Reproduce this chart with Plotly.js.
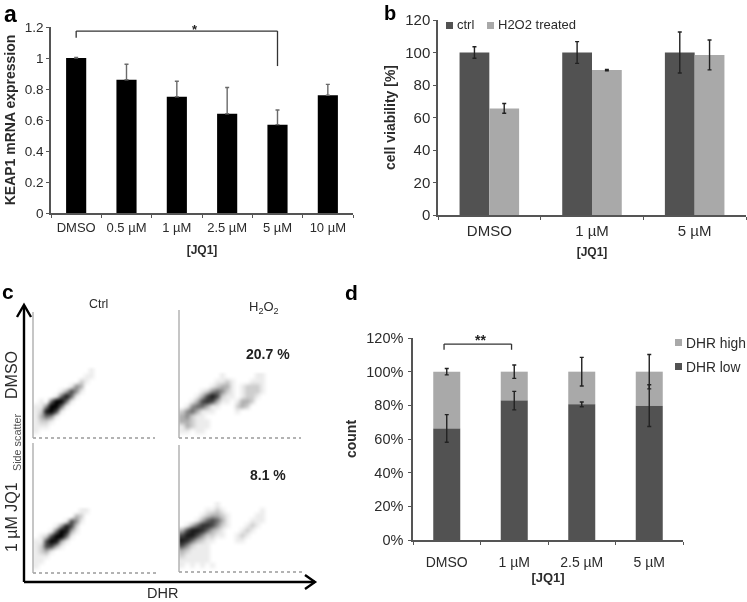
<!DOCTYPE html>
<html>
<head>
<meta charset="utf-8">
<script src="https://cdn.plot.ly/plotly-3.0.1.min.js"></script>
<style>html,body{margin:0;padding:0;background:#fff}#chart{width:747px;height:602px;filter:blur(0.45px)}
.heatmaplayer image{filter:blur(1.2px)}</style>
</head>
<body>
<div id="chart"></div>
<script>
// Panel a
const catsA = ["DMSO","0.5 µM","1 µM","2.5 µM","5 µM","10 µM"];
const valsA = [1.0,0.86,0.75,0.64,0.57,0.76];
const errA  = [0.003,0.10,0.10,0.17,0.095,0.07];
// Panel b
const catsB = ["DMSO","1 µM","5 µM"];
const ctrlB = [100,100,100];
const ctrlErrB = [3.5,6.7,12.6];
const h2o2B = [65.6,89.2,98.5];
const h2o2ErrB = [3,0.4,9.2];
// Panel d
const catsD = ["DMSO","1 µM","2.5 µM","5 µM"];
const lowD = [66.3,82.8,80.6,79.8];
const lowErrD = [8.2,5.5,1.4,12.4];
const highD = [33.7,17.2,19.4,20.2];
const highErrD = [1.9,4,8.5,10.2];
// Panel c: darkness, 0 to 9, in 5-unit cells; top row first
const densCtrlDmso = [
"0000000000010",
"0000000000110",
"0000000002100",
"0000000143000",
"0000013641000",
"0000158510000",
"0105995100000",
"1149951000000",
"1289610000000",
"1354100000000",
"1221000000000",
"1110000000000",
"1000000000000",
"0000000000000"];
const densH2o2Dmso = [
"00000000100000011000",
"00000001121000111000",
"00000012331012221000",
"00001245421012221000",
"00013686211012210000",
"00136763110133200000",
"01455311000232000000",
"24531110000100000000",
"34211000000000000000",
"33211100000000000000",
"13211100000000000000",
"11011000000000000000",
"00000000000000000000"];
const densCtrlJq1 = [
"0000000001100",
"0000000032000",
"0000001641000",
"0000148620000",
"0001598310000",
"0126995100000",
"1169831000000",
"1266310000000",
"1231000000000",
"1110000000000",
"1100000000000",
"1000000000000",
"0000000000000"];
const densH2o2Jq1 = [
"0000000100000000000",
"0000011210000000100",
"0000123321000001100",
"0001356531000011100",
"0135776421000121000",
"3688753210001210000",
"6886422110012100000",
"8753211000011000000",
"6421110000000000000",
"3211110000000000000",
"2111110000000000000",
"1111110000000000000",
"1010101000000000000",
"0000000000000000000"];

const W = 747, H = 602;
const FONT = "Liberation Sans, Arial, sans-serif";
const INK = "#2b2b2b";
const AXIS = "#555555";
const DARK = "#525252";
const LIGHT = "#a9a9a9";
const fx = p => p / W;
const fy = p => 1 - p / H;
const dom = (a, b) => [a / W, b / W];
const domY = (top, bot) => [1 - bot / H, 1 - top / H];

function densityTrace(rows, xa, ya) {
  const z = rows.slice().reverse().map(r => r.split("").map(Number));
  const xs = z[0].map((_, i) => 2.5 + 5 * i);
  const ys = z.map((_, j) => 2.5 + 5 * j);
  return {type:"heatmap", x:xs, y:ys, z:z, xaxis:xa, yaxis:ya, zsmooth:"best", zmin:0, zmax:9,
    showscale:false, hoverinfo:"skip",
    colorscale:[[0,"#ffffff"],[0.111,"#ececec"],[0.333,"#b0b0b0"],[0.667,"#484848"],[1,"#000000"]]};
}
const errStyle = (arr, col) => ({type:"data", array:arr, color:col, thickness:1.4, width:2});

const traces = [
  {type:"bar", x:catsA, y:valsA, xaxis:"x", yaxis:"y", width:0.4, offset:-0.2, marker:{color:"#000"},
   error_y:{type:"data", symmetric:false, array:errA, arrayminus:[0,0,0,0,0,0], color:"#6a6a6a", thickness:1.4, width:2}},
  {type:"bar", name:"ctrl", x:catsB, y:ctrlB, xaxis:"x2", yaxis:"y2", width:0.29, offset:-0.29, marker:{color:DARK}, error_y:errStyle(ctrlErrB,"#222")},
  {type:"bar", name:"H2O2 treated", x:catsB, y:h2o2B, xaxis:"x2", yaxis:"y2", width:0.29, offset:0, marker:{color:LIGHT}, error_y:errStyle(h2o2ErrB,"#222")},
  {type:"bar", name:"DHR high", x:catsD, y:highD, base:lowD, xaxis:"x7", yaxis:"y7", width:0.4, offset:-0.2, marker:{color:LIGHT}, error_y:errStyle(highErrD,"#222")},
  {type:"bar", name:"DHR low", x:catsD, y:lowD, xaxis:"x7", yaxis:"y7", width:0.4, offset:-0.2, marker:{color:DARK}, error_y:errStyle(lowErrD,"#222")},
  densityTrace(densCtrlDmso, "x3", "y3"),
  densityTrace(densH2o2Dmso, "x4", "y4"),
  densityTrace(densCtrlJq1, "x5", "y5"),
  densityTrace(densH2o2Jq1, "x6", "y6")
];

function catAxis(domain, anchor, n, size, title, titleSize, standoff, labelGap) {
  return {domain:domain, anchor:anchor, type:"category", range:[-0.5,n-0.5], tickson:"boundaries",
    ticks:"outside", ticklen:3, tickwidth:1, tickcolor:AXIS, showline:true, linecolor:AXIS, linewidth:1.5,
    showgrid:false, zeroline:false, tickfont:{family:FONT,size:size,color:INK}, ticklabelstandoff:labelGap,
    title:{text:title, font:{family:FONT,size:titleSize,color:INK,weight:700}, standoff:standoff}};
}
function valAxis(domain, anchor, range, dtick, size, title, titleSize, standoff, fmt, labelGap) {
  return {domain:domain, anchor:anchor, range:range, dtick:dtick, tick0:0,
    ticks:"outside", ticklen:3, tickwidth:1, tickcolor:AXIS, showline:true, linecolor:AXIS, linewidth:1.5,
    showgrid:false, zeroline:false, tickfont:{family:FONT,size:size,color:INK}, ticksuffix:fmt||"", ticklabelstandoff:labelGap||0,
    title:{text:title, font:{family:FONT,size:titleSize,color:INK,weight:700}, standoff:standoff}};
}
function hidden(domain, anchor, range) {
  return {domain:domain, anchor:anchor, range:range, visible:false, fixedrange:true};
}

const layout = {
  width:W, height:H, margin:{l:0,r:0,t:0,b:0,pad:0}, paper_bgcolor:"#fff", plot_bgcolor:"rgba(0,0,0,0)",
  showlegend:false, barmode:"group", font:{family:FONT,color:INK},
  xaxis: catAxis(dom(51,353),"y",6,13,"[JQ1]",12,11,2),
  yaxis: valAxis(domY(27,213),"x",[0,1.2],0.2,13.5,"KEAP1 mRNA expression",14,6),
  xaxis2: catAxis(dom(438,746),"y2",3,15,"[JQ1]",12,10,1),
  yaxis2: valAxis(domY(20,215),"x2",[0,120],20,15,"cell viability [%]",14,6),
  xaxis7: catAxis(dom(413,683),"y7",4,14,"[JQ1]",13,3,8),
  yaxis7: valAxis(domY(338,540),"x7",[0,120],20,14.5,"count",14,6,"%",2),
  xaxis3: hidden(dom(33,155),"y3",[0,122]),
  yaxis3: hidden(domY(312,438),"x3",[0,126]),
  xaxis4: hidden(dom(179,301),"y4",[0,122]),
  yaxis4: hidden(domY(310,438),"x4",[0,128]),
  xaxis5: hidden(dom(33,156),"y5",[0,123]),
  yaxis5: hidden(domY(443,573),"x5",[0,130]),
  xaxis6: hidden(dom(179,302),"y6",[0,123]),
  yaxis6: hidden(domY(445,572),"x6",[0,127]),
  shapes: [],
  annotations: []
};

const S = layout.shapes, A = layout.annotations;
// Dot-plot frames
[["x3","y3"],["x4","y4"],["x5","y5"],["x6","y6"]].forEach(([xa,ya]) => {
  const ln = {color:"#9a9a9a", width:1.3, dash:"dot"};
  S.push({type:"line", xref:xa+" domain", yref:ya+" domain", x0:0,x1:1,y0:0,y1:0, line:ln});
  S.push({type:"line", xref:xa+" domain", yref:ya+" domain", x0:0,x1:0,y0:0,y1:1, line:{color:"#a8a8a8",width:1.3}});
});
// Big DHR / side-scatter arrows
const arrow = {color:"#000", width:2.4};
const paperPath = pts => "M" + pts.map(p => fx(p[0]) + "," + fy(p[1])).join(" L");
[[[24,582],[24,306]], [[17,317],[24,305],[31,317]], [[24,582],[315,582]], [[305,575],[315,582],[305,589]]]
  .forEach(pts => S.push({type:"path", xref:"paper", yref:"paper", path:paperPath(pts), line:arrow}));
// Significance brackets, in data coordinates
const br = {color:"#333", width:1.3};
[[0,1.13,0,1.174],[0,1.174,4,1.174],[4,1.174,4,0.948]].forEach(s =>
  S.push({type:"line", xref:"x", yref:"y", x0:s[0],y0:s[1],x1:s[2],y1:s[3], line:br}));
[[-0.04,113,-0.04,116.4],[-0.04,116.4,0.96,116.4],[0.96,116.4,0.96,113]].forEach(s =>
  S.push({type:"line", xref:"x7", yref:"y7", x0:s[0],y0:s[1],x1:s[2],y1:s[3], line:br}));
// Legend swatches
[[446,22,453,29,DARK],[487,22,494,29,LIGHT],[675,339,682,346,LIGHT],[675,363,682,370,DARK]].forEach(s =>
  S.push({type:"rect", xref:"paper", yref:"paper", x0:fx(s[0]),x1:fx(s[2]),y0:fy(s[1]),y1:fy(s[3]), fillcolor:s[4], line:{width:0}}));

function note(text, x, y, size, opts) {
  A.push(Object.assign({text:text, xref:"paper", yref:"paper", x:fx(x), y:fy(y), xanchor:"center", yanchor:"middle",
    showarrow:false, font:{family:FONT,size:size,color:INK}}, opts||{}));
}
const bold = (c, s) => ({font:{family:FONT,size:s,color:c,weight:700}});
note("a", 10, 14, 23, bold("#000",23));
note("b", 389.5, 13, 20, bold("#000",20));
note("c", 8, 291, 21, bold("#000",21));
note("d", 351, 292, 21, bold("#000",21));
note("*", 195, 29, 13, bold("#222",13));
note("**", 480, 340, 14, bold("#222",14));
note("ctrl", 455, 25, 13, {xanchor:"left"});
note("H2O2 treated", 496, 25, 13, {xanchor:"left"});
note("DHR high", 684, 343, 13.8, {xanchor:"left"});
note("DHR low", 684, 367, 13.8, {xanchor:"left"});
note("Ctrl", 98, 304, 12.4);
note("H<sub>2</sub>O<sub>2</sub>", 264, 307, 13);
note("20.7 %", 268, 354, 14, bold("#222",14));
note("8.1 %", 268, 475, 14, bold("#222",14));
note("DMSO", 11, 375, 16, {textangle:-90});
note("1 µM JQ1", 11, 517, 16, {textangle:-90});
note("Side scatter", 17, 443, 10.8, {textangle:-90, font:{family:FONT,size:10.8,color:"#555"}});
note("DHR", 162, 593, 14.5);

Plotly.newPlot("chart", traces, layout, {displayModeBar:false, responsive:false});
</script>
</body>
</html>
